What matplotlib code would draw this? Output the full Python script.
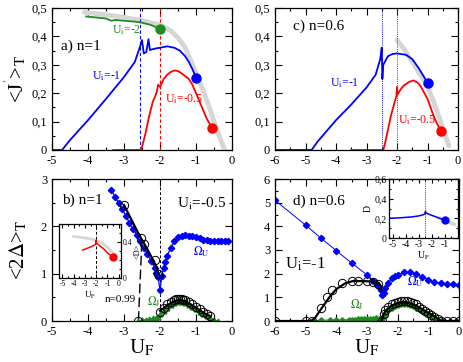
import matplotlib
matplotlib.use("Agg")
import matplotlib.pyplot as plt
from matplotlib.ticker import MultipleLocator, FuncFormatter

plt.rcParams["font.family"] = ["Liberation Serif", "DejaVu Serif"]
plt.rcParams["mathtext.fontset"] = "stix"
plt.rcParams["axes.unicode_minus"] = False

BLUE = "#0000ff"
RED = "#ff0000"
GREEN = "#1e8c1e"
GRAY = "#d6d6d6"

# ---- panel a (n=1) ----
a_gray_x = [-4.1, -3.5, -3.0, -2.5, -2.0, -1.7, -1.5, -1.3, -1.1, -1.0, -0.8, -0.6, -0.5, -0.4, -0.3, -0.2]
a_gray_y = [0.485, 0.476, 0.467, 0.456, 0.44, 0.42, 0.395, 0.36, 0.3, 0.27, 0.21, 0.14, 0.1, 0.065, 0.03, 0.0]
a_green_x = [-4.05, -3.8, -3.5, -3.35, -3.25, -3.0, -2.7, -2.5, -2.3, -2.15, -2.0]
a_green_y = [0.47, 0.467, 0.463, 0.455, 0.458, 0.455, 0.452, 0.448, 0.442, 0.435, 0.425]
a_blue_x = [-5.0, -4.72, -4.5, -4.0, -3.5, -3.0, -2.7, -2.55, -2.5, -2.45, -2.38, -2.32, -2.28, -2.2, -2.1, -2.0,
            -1.8, -1.6, -1.45, -1.3, -1.2, -1.1, -1.0]
a_blue_y = [0.0, 0.0, 0.035, 0.105, 0.18, 0.257, 0.31, 0.366, 0.387, 0.34, 0.345, 0.39, 0.352, 0.355, 0.358, 0.36,
            0.365, 0.36, 0.35, 0.33, 0.31, 0.285, 0.255]
a_red_x = [-3.3, -2.55, -2.5, -2.4, -2.3, -2.2, -2.1, -2.05, -2.0, -1.95, -1.9, -1.8, -1.7, -1.6, -1.5, -1.4,
           -1.3, -1.2, -1.1, -1.0, -0.9, -0.8, -0.7, -0.6, -0.55]
a_red_y = [0.0, 0.0, 0.01, 0.06, 0.12, 0.17, 0.2, 0.23, 0.222, 0.235, 0.25, 0.265, 0.275, 0.28, 0.278, 0.27,
           0.26, 0.25, 0.23, 0.2, 0.17, 0.14, 0.11, 0.088, 0.078]
a_dots_x = [-2.0, -1.0, -0.55]
a_dots_y = [0.425, 0.255, 0.078]

# ---- panel c (n=0.6) ----
c_gray_x = [-2.0, -1.8, -1.5, -1.2, -1.0, -0.8, -0.6, -0.5, -0.4, -0.3]
c_gray_y = [0.387, 0.36, 0.31, 0.26, 0.225, 0.17, 0.11, 0.075, 0.045, 0.015]
c_blue_x = [-6.0, -4.8, -4.6, -4.0, -3.5, -3.0, -2.7, -2.55, -2.5, -2.48, -2.45, -2.3, -2.15, -2.0, -1.7, -1.5,
            -1.3, -1.1, -1.0]
c_blue_y = [0.0, 0.0, 0.03, 0.105, 0.16, 0.22, 0.265, 0.32, 0.36, 0.25, 0.3, 0.33, 0.338, 0.34, 0.335, 0.32,
            0.29, 0.255, 0.235]
c_red_x = [-3.5, -2.45, -2.4, -2.3, -2.2, -2.1, -2.02, -2.0, -1.98, -1.9, -1.8, -1.6, -1.45, -1.3, -1.2, -1.0,
           -0.9, -0.8, -0.7, -0.6, -0.55]
c_red_y = [0.0, 0.0, 0.02, 0.07, 0.12, 0.16, 0.19, 0.222, 0.195, 0.21, 0.225, 0.24, 0.245, 0.235, 0.22, 0.18,
           0.15, 0.12, 0.095, 0.075, 0.068]
c_dots_x = [-1.0, -0.55]
c_dots_y = [0.235, 0.068]

# ---- panel b (n=1, Ui=-0.5) ----
b_omu_x = [-3.35, -3.25, -3.15, -3.05, -2.95, -2.85, -2.75, -2.65, -2.55, -2.45, -2.35, -2.25, -2.15, -2.1,
           -2.05, -2.0, -1.95, -1.9, -1.85, -1.8, -1.7, -1.6, -1.5, -1.4, -1.3, -1.2, -1.1, -1.0, -0.9, -0.8,
           -0.7, -0.6, -0.5, -0.4, -0.3, -0.2, -0.1]
b_omu_y = [2.77, 2.62, 2.5, 2.37, 2.22, 2.08, 1.95, 1.82, 1.68, 1.55, 1.42, 1.27, 1.12, 1.02,
           0.92, 0.65, 0.95, 1.12, 1.25, 1.38, 1.55, 1.68, 1.77, 1.8, 1.82, 1.8, 1.8, 1.78, 1.75, 1.72,
           1.72, 1.7, 1.7, 1.7, 1.7, 1.7, 1.7]
b_gap1_x = [-3.0, -2.8, -2.6, -2.4, -2.2, -2.1, -2.04]
b_gap1_y = [2.45, 2.15, 1.85, 1.58, 1.3, 1.15, 1.0]
b_gap2_x = [-2.0, -1.9, -1.8, -1.7, -1.6, -1.5, -1.4, -1.3, -1.2, -1.1, -1.0, -0.9, -0.8, -0.7, -0.6]
b_gap2_y = [0.22, 0.27, 0.33, 0.38, 0.42, 0.44, 0.44, 0.42, 0.38, 0.33, 0.28, 0.23, 0.18, 0.14, 0.1]
b_circ_x = [-3.0, -2.52, -2.45, -2.15, -2.05, -2.0, -1.9, -1.8, -1.7, -1.6, -1.55, -1.5, -1.45, -1.4, -1.35,
            -1.3, -1.2, -1.1, -1.0, -0.9, -0.8, -0.7, -0.6, -2.6]
b_circ_y = [2.45, 1.75, 1.62, 1.28, 1.0, 0.2, 0.28, 0.35, 0.4, 0.44, 0.46, 0.47, 0.47, 0.46, 0.45,
            0.44, 0.4, 0.35, 0.3, 0.25, 0.2, 0.15, 0.1, 0.0]
b_omj_x = [-2.6, -2.5, -2.4, -2.3, -2.2, -2.1, -2.05, -2.0, -1.9, -1.8, -1.7, -1.6, -1.5, -1.4, -1.3, -1.2,
           -1.1, -1.0, -0.9, -0.8, -0.7, -0.6, -0.5, -0.4]
b_omj_y = [0.0, 0.02, 0.03, 0.04, 0.06, 0.07, 0.08, 0.15, 0.22, 0.28, 0.33, 0.37, 0.4, 0.4, 0.38, 0.34,
           0.3, 0.25, 0.2, 0.15, 0.1, 0.06, 0.02, 0.0]
b_n099_x = [-2.6, -2.5]
b_n099_y = [0.0, 1.75]

# inset of b: <D>
bi_gray_x = [-4.0, -3.5, -3.0, -2.5, -2.0, -1.5, -1.0, -0.6, -0.3]
bi_gray_y = [0.46, 0.455, 0.445, 0.435, 0.42, 0.39, 0.34, 0.29, 0.26]
bi_red_x = [-3.2, -2.8, -2.4, -2.1, -2.02, -2.0, -1.98, -1.9, -1.6, -1.3, -1.0, -0.7, -0.5]
bi_red_y = [0.31, 0.33, 0.35, 0.37, 0.39, 0.42, 0.39, 0.38, 0.35, 0.32, 0.28, 0.25, 0.23]

# ---- panel d (n=0.6, Ui=-1) ----
d_omu_x = [-6.0, -5.0, -4.5, -4.0, -3.5, -3.0, -2.8, -2.7, -2.6, -2.55, -2.5, -2.45, -2.4, -2.3, -2.2, -2.1,
           -2.0, -1.8, -1.6, -1.4, -1.2, -1.0, -0.8, -0.6, -0.4, -0.2, 0.0]
d_omu_y = [5.1, 4.05, 3.5, 2.97, 2.45, 1.95, 1.7, 1.6, 1.45, 1.3, 1.1, 1.2, 1.4, 1.6, 1.8, 1.9,
           1.95, 2.05, 2.05, 2.0, 1.85, 1.75, 1.65, 1.6, 1.58, 1.55, 1.52]
d_gap1_x = [-6.0, -4.8, -4.7, -4.5, -4.2, -4.0, -3.7, -3.45, -3.0, -2.75, -2.62, -2.56, -2.53]
d_gap1_y = [0.0, 0.0, 0.12, 0.5, 1.05, 1.35, 1.6, 1.69, 1.68, 1.65, 1.6, 1.5, 1.3]
d_gap2_x = [-2.53, -2.5, -2.45, -2.4, -2.3, -2.2, -2.0, -1.8, -1.6, -1.4, -1.2, -1.0, -0.8, -0.62, -0.5, 0.0]
d_gap2_y = [0.0, 0.15, 0.3, 0.42, 0.55, 0.65, 0.76, 0.8, 0.75, 0.65, 0.5, 0.35, 0.2, 0.02, 0.0, 0.0]
d_circ_x = [-6.0, -5.0, -4.8, -4.5, -4.3, -4.15, -3.8, -3.5, -3.3, -3.0, -2.8, -2.65, -2.5, -2.45, -2.4, -2.3,
            -2.2, -2.1, -2.0, -1.9, -1.8, -1.7, -1.6, -1.5, -1.4, -1.3, -1.2, -1.1, -1.0, -0.9, -0.8, -0.7,
            -0.6, -0.4, -0.2, 0.0]
d_circ_y = [0.0, 0.0, 0.0, 0.55, 1.0, 1.3, 1.6, 1.7, 1.7, 1.68, 1.65, 1.55, 0.0, 0.3, 0.45, 0.6,
            0.7, 0.78, 0.82, 0.85, 0.85, 0.83, 0.8, 0.75, 0.7, 0.6, 0.5, 0.42, 0.35, 0.25, 0.15, 0.08,
            0.02, 0.0, 0.0, 0.0]
d_omj_x = [-4.8, -4.5, -4.2, -4.0, -3.8, -3.6, -3.5, -3.4, -3.3, -3.2, -3.1, -3.0, -2.9, -2.8, -2.7, -2.6,
           -2.5, -2.45, -2.4, -2.3, -2.2, -2.1, -2.0, -1.9, -1.8, -1.7, -1.6, -1.5, -1.4, -1.3, -1.2, -1.1,
           -1.0, -0.9, -0.8, -0.7, -0.6, -0.5, -0.3, -0.1]
d_omj_y = [0.02, 0.03, 0.04, 0.04, 0.05, 0.05, 0.06, 0.06, 0.07, 0.07, 0.08, 0.08, 0.09, 0.1, 0.12, 0.1,
           0.0, 0.2, 0.3, 0.45, 0.55, 0.62, 0.68, 0.7, 0.72, 0.7, 0.68, 0.62, 0.55, 0.5, 0.42, 0.35,
           0.28, 0.2, 0.12, 0.06, 0.02, 0.0, 0.0, 0.0]

# inset of d: D
di_blue_x = [-5.3, -4.5, -4.0, -3.5, -3.0, -2.7, -2.55, -2.5, -2.45, -2.3, -2.0, -1.7, -1.5, -1.3, -1.1, -1.0]
di_blue_y = [0.2, 0.205, 0.21, 0.215, 0.225, 0.235, 0.245, 0.27, 0.255, 0.245, 0.23, 0.215, 0.205, 0.195, 0.185, 0.18]
di_gray_x = [-1.5, -1.0, -0.6, -0.3]
di_gray_y = [0.205, 0.18, 0.155, 0.14]


def comma(v, pos):
    if abs(v) < 1e-9:
        return "0"
    return ("%.1f" % v).replace(".", ",")


def dot(v, pos):
    if abs(v) < 1e-9:
        return "0"
    return "%.1f" % v


def style(ax, fs=9, major=5, minor=2.5):
    ax.tick_params(which="both", direction="in", top=True, right=True, labelsize=fs)
    ax.tick_params(which="major", length=major, width=0.8)
    ax.tick_params(which="minor", length=minor, width=0.8)
    for s in ax.spines.values():
        s.set_linewidth(0.9)


fig = plt.figure(figsize=(4.63, 3.62), dpi=100)
W, H = 463.0, 362.0


def box(l, t, r, b):
    return [l / W, 1 - b / H, (r - l) / W, (b - t) / H]


def sub(s):
    return r"$_{\mathrm{%s}}$" % s


OMEGA = r"$\mathrm{\Omega}$"

# panel a
ax = fig.add_axes(box(52, 8, 232, 150))
ax.plot(a_gray_x, a_gray_y, color=GRAY, lw=3.5, solid_capstyle="round")
ax.axvline(-2.55, color=BLUE, lw=0.8, ls=(0, (3, 2)))
ax.axvline(-2.0, color=RED, lw=0.8, ls=(0, (3, 2)))
ax.plot(a_green_x, a_green_y, color=GREEN, lw=1.3)
ax.plot(a_blue_x, a_blue_y, color=BLUE, lw=1.3)
ax.plot(a_red_x, a_red_y, color=RED, lw=1.3)
for x, y, c in zip(a_dots_x, a_dots_y, [GREEN, BLUE, RED]):
    ax.plot(x, y, "o", color=c, ms=6.5)
ax.set_xlim(-5, 0)
ax.set_ylim(0, 0.5)
ax.xaxis.set_major_locator(MultipleLocator(1))
ax.xaxis.set_minor_locator(MultipleLocator(0.5))
ax.yaxis.set_major_locator(MultipleLocator(0.1))
ax.yaxis.set_minor_locator(MultipleLocator(0.05))
ax.yaxis.set_major_formatter(FuncFormatter(comma))
style(ax)
ax.set_ylabel(r"<J$^{'}$>" + sub("T"), fontsize=15, labelpad=2)
ax.text(-4.75, 0.365, "a) n=1", fontsize=11, va="center")
ax.text(-3.33, 0.422, "U" + sub("i") + "=-2", color=GREEN, fontsize=8.5, va="center")
ax.text(-3.9, 0.26, "U" + sub("i") + "=-1", color=BLUE, fontsize=8.5, va="center")
ax.text(-1.86, 0.18, "U" + sub("i") + "=-0.5", color=RED, fontsize=8.5, va="center")

# panel c
ax = fig.add_axes(box(275, 8, 458, 150))
ax.plot(c_gray_x, c_gray_y, color=GRAY, lw=3.5, solid_capstyle="round")
ax.axvline(-2.5, color=BLUE, lw=0.7, ls=(0, (1, 1.2)))
ax.axvline(-2.0, color=RED, lw=0.7, ls=(0, (1, 1.2)))
ax.plot(c_blue_x, c_blue_y, color=BLUE, lw=1.3)
ax.plot(c_red_x, c_red_y, color=RED, lw=1.3)
for x, y, c in zip(c_dots_x, c_dots_y, [BLUE, RED]):
    ax.plot(x, y, "o", color=c, ms=6.5)
ax.set_xlim(-6, 0)
ax.set_ylim(0, 0.5)
ax.xaxis.set_major_locator(MultipleLocator(1))
ax.xaxis.set_minor_locator(MultipleLocator(0.5))
ax.yaxis.set_major_locator(MultipleLocator(0.1))
ax.yaxis.set_minor_locator(MultipleLocator(0.05))
ax.yaxis.set_major_formatter(FuncFormatter(comma))
style(ax)
ax.text(-5.41, 0.437, "c) n=0.6", fontsize=11, va="center")
ax.text(-4.2, 0.235, "U" + sub("i") + "=-1", color=BLUE, fontsize=8.5, va="center")
ax.text(-1.97, 0.105, "U" + sub("i") + "=-0.5", color=RED, fontsize=8.5, va="center")

# panel b
ax = fig.add_axes(box(52, 179, 232, 321))
ax.axvline(-2.0, color="black", lw=0.7, ls=(0, (3, 2)))
ax.plot(b_n099_x, b_n099_y, color="black", lw=1.0, ls=(0, (7, 3)))
ax.plot(b_omu_x, b_omu_y, color=BLUE, lw=0.9, marker="D", ms=3.2, mec=BLUE)
ax.plot(b_omj_x, b_omj_y, color=GREEN, lw=0.9, marker="^", ms=3.5)
ax.plot(b_gap1_x, b_gap1_y, color="black", lw=1.6)
ax.plot(b_gap2_x, b_gap2_y, color="black", lw=1.6)
ax.plot(b_circ_x, b_circ_y, "o", mfc="none", mec="black", ms=6, mew=0.7)
ax.set_xlim(-5, 0)
ax.set_ylim(0, 3)
ax.xaxis.set_major_locator(MultipleLocator(1))
ax.xaxis.set_minor_locator(MultipleLocator(0.5))
ax.yaxis.set_major_locator(MultipleLocator(1))
ax.yaxis.set_minor_locator(MultipleLocator(0.5))
style(ax)
ax.set_ylabel(r"<2$\Delta$>" + sub("T"), fontsize=15, labelpad=8)
ax.set_xlabel("U" + sub("F"), fontsize=15, labelpad=0)
ax.text(-4.72, 2.56, "b) n=1", fontsize=11, va="center")
ax.text(-1.53, 2.47, "U" + sub("i") + "=-0.5", fontsize=11, va="center")
ax.text(-1.08, 1.46, OMEGA + sub("U"), color=BLUE, fontsize=8.5, va="center")
ax.text(-2.36, 0.4, OMEGA + sub("J"), color=GREEN, fontsize=8.5, va="center")
ax.text(-3.53, 0.45, "n=0.99", fontsize=8, va="center")

# inset of b
ax = fig.add_axes(box(59, 224, 121, 278))
ax.plot(bi_gray_x, bi_gray_y, color=GRAY, lw=2)
ax.axvline(-2.0, color="black", lw=0.7, ls=(0, (3, 2)))
ax.plot(bi_red_x, bi_red_y, color=RED, lw=1.1)
ax.plot(-0.5, 0.23, "o", color=RED, ms=5)
ax.set_xlim(-5.3, 0.2)
ax.set_ylim(0, 0.6)
ax.xaxis.set_major_locator(MultipleLocator(1))
ax.xaxis.set_minor_locator(MultipleLocator(0.5))
ax.yaxis.set_major_locator(MultipleLocator(0.4))
ax.yaxis.set_minor_locator(MultipleLocator(0.1))
ax.yaxis.set_major_formatter(FuncFormatter(dot))
ax.yaxis.tick_right()
ax.yaxis.set_label_position("right")
style(ax, fs=5.5, major=3, minor=1.5)
ax.tick_params(labelleft=False, labelright=True, pad=1.5)
ax.set_ylabel("<D>", fontsize=6, labelpad=1)
ax.set_xlabel("U" + sub("F"), fontsize=6.5, labelpad=1)

# panel d
ax = fig.add_axes(box(275, 179, 459, 321))
ax.plot(d_omu_x, d_omu_y, color=BLUE, lw=0.7, marker="D", ms=3.2, mec=BLUE)
ax.plot(d_omj_x, d_omj_y, color=GREEN, lw=0.8, marker="D", ms=2.8, mec=GREEN)
ax.plot(d_gap1_x, d_gap1_y, color="black", lw=1.6)
ax.plot(d_gap2_x, d_gap2_y, color="black", lw=1.6)
ax.plot(d_circ_x, d_circ_y, "o", mfc="none", mec="black", ms=6, mew=0.7)
ax.set_xlim(-6, 0)
ax.set_ylim(0, 6)
ax.xaxis.set_major_locator(MultipleLocator(1))
ax.xaxis.set_minor_locator(MultipleLocator(0.5))
ax.yaxis.set_major_locator(MultipleLocator(1))
ax.yaxis.set_minor_locator(MultipleLocator(0.5))
style(ax)
ax.set_xlabel("U" + sub("F"), fontsize=15, labelpad=0)
ax.text(-5.41, 5.06, "d) n=0.6", fontsize=11, va="center")
ax.text(-5.67, 2.4, "U" + sub("i") + "=-1", fontsize=12, va="center")
ax.text(-1.7, 1.65, OMEGA + sub("U"), color=BLUE, fontsize=8.5, va="center")
ax.text(-3.56, 0.7, OMEGA + sub("J"), color=GREEN, fontsize=8.5, va="center")

# inset of d
ax = fig.add_axes(box(389, 179, 458, 238))
ax.plot(di_gray_x, di_gray_y, color=GRAY, lw=2.5)
ax.axvline(-2.5, color=BLUE, lw=0.6, ls=(0, (1, 1.2)))
ax.plot(di_blue_x, di_blue_y, color=BLUE, lw=1.1)
ax.plot(-1.0, 0.18, "o", color=BLUE, ms=5)
ax.set_xlim(-5.3, 0.0)
ax.set_ylim(0, 0.6)
ax.xaxis.set_major_locator(MultipleLocator(1))
ax.xaxis.set_minor_locator(MultipleLocator(0.5))
ax.yaxis.set_major_locator(MultipleLocator(0.2))
ax.yaxis.set_minor_locator(MultipleLocator(0.1))
ax.yaxis.set_major_formatter(FuncFormatter(comma))
ax.set_xticks([-5, -4, -3, -2, -1])
style(ax, fs=7, major=3, minor=1.5)
ax.tick_params(pad=1.5)
ax.set_ylabel("D", fontsize=7, labelpad=1)
ax.set_xlabel("U" + sub("F"), fontsize=7, labelpad=0)

fig.savefig("out.png", dpi=100)
